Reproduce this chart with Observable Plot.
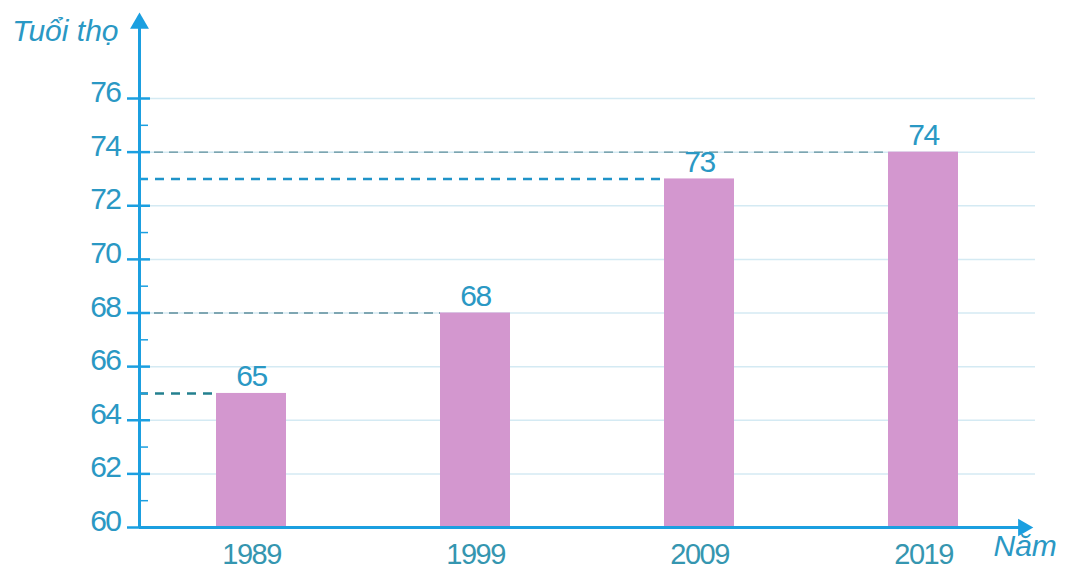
<!DOCTYPE html>
<html><head><meta charset="utf-8">
<script src="https://cdn.jsdelivr.net/npm/d3@7"></script>
<script src="https://cdn.jsdelivr.net/npm/@observablehq/plot@0.6"></script>
<style>html,body{margin:0;padding:0;background:#fff} svg{display:block}</style>
</head><body><div id="chart"></div>
<script>
// ---- data ----
const years = [1989, 1999, 2009, 2019];
const lifeExpectancy = [65, 68, 73, 74];
const yMajorTicks = [60, 62, 64, 66, 68, 70, 72, 74, 76];
const yMinorTicks = [61, 63, 65, 67, 69, 71, 73, 75];
const yAxisTitle = "Tuổi thọ";
const xAxisTitle = "Năm";

// ---- styling ----
const NUM_FONT = '"Liberation Sans Narrow", "Arial Narrow", "Liberation Sans", Arial, sans-serif';
const TITLE_FONT = '"Liberation Sans", Arial, sans-serif';
const AXIS = "#1b9fe0";
const LABEL = "#2a98c4";
const XLABEL = "#3596b0";
const GRID = "#d4eaf3";
const BAR = "#d397cf";
const X_DOMAIN = [1984, 2024];
const Y_DOMAIN = [60, 76];
const BAR_HALF = 1.5625;     // half bar width in x units
const Y_ARROW = 78.8;        // arrow end above domain
const X_ARROW = 2023.45;

const data = years.map((year, i) => ({year, value: lifeExpectancy[i], strong: i % 2 === 0}));

const chart = Plot.plot({
  width: 1072,
  height: 571,
  marginLeft: 139,
  marginRight: 37,
  marginTop: 98,
  marginBottom: 44,
  style: {fontFamily: NUM_FONT, background: "white", overflow: "visible"},
  x: {type: "linear", domain: X_DOMAIN, axis: null},
  y: {domain: Y_DOMAIN, axis: null},
  marks: [
    // grid lines
    Plot.ruleY(yMajorTicks.slice(1), {stroke: GRID, strokeWidth: 1.5, insetLeft: 11}),
    // dashed guide lines
    Plot.ruleY(data.filter(d => !d.strong), {y: "value", x1: X_DOMAIN[0], x2: d => d.year - BAR_HALF,
      stroke: "#5f8f9c", strokeWidth: 1.3, strokeDasharray: "9,6"}),
    Plot.ruleY(data.filter(d => d.strong), {y: "value", x1: X_DOMAIN[0], x2: d => d.year - BAR_HALF,
      stroke: (d) => d.value > 70 ? "#1f93c8" : "#23808f", strokeWidth: 2.5, strokeDasharray: "9,7"}),
    // bars
    Plot.rectY(data, {x1: d => d.year - BAR_HALF, x2: d => d.year + BAR_HALF, y1: Y_DOMAIN[0], y2: "value", fill: BAR}),
    // value labels
    Plot.text(data, {x: "year", y: "value", text: d => String(d.value), dy: -17,
      fill: LABEL, fontSize: 30}),
    // x labels
    Plot.text(data, {x: "year", y: Y_DOMAIN[0], text: d => String(d.year), dy: 27,
      fill: XLABEL, fontSize: 29}),
    // y ticks (major & minor)
    Plot.axisY(yMajorTicks, {tickSize: 23, dx: 11, tickFormat: () => "", stroke: AXIS, strokeWidth: 2.5}),
    Plot.axisY(yMinorTicks, {tickSize: 9, dx: 9, tickFormat: () => "", stroke: AXIS, strokeWidth: 1.5}),
    // y labels
    Plot.axisY(yMajorTicks, {tickSize: 0, tickPadding: 19, dy: -6, fill: LABEL, fontSize: 30, tickFormat: d => String(d)}),
    // axis lines
    Plot.ruleX([X_DOMAIN[0]], {y1: Y_DOMAIN[0], y2: Y_ARROW, stroke: AXIS, strokeWidth: 3}),
    Plot.ruleY([Y_DOMAIN[0]], {x1: X_DOMAIN[0], x2: X_ARROW, stroke: AXIS, strokeWidth: 3}),
    Plot.dot([{x: X_DOMAIN[0], y: Y_ARROW}], {x: "x", y: "y", symbol: "triangle", r: 7, fill: AXIS, stroke: null}),
    Plot.dot([{x: X_ARROW, y: Y_DOMAIN[0]}], {x: "x", y: "y", symbol: "triangle", r: 6.5, rotate: 90, fill: AXIS, stroke: null}),
    // axis titles
    Plot.text([yAxisTitle], {frameAnchor: "top-left", text: d => d, dx: -21, dy: -79, textAnchor: "end",
      fontStyle: "italic", fontSize: 30, fill: LABEL, fontFamily: TITLE_FONT}),
    Plot.text([xAxisTitle], {frameAnchor: "bottom-right", text: d => d, dx: -42, dy: 28, textAnchor: "start",
      fontStyle: "italic", fontSize: 30, fill: LABEL, fontFamily: TITLE_FONT})
  ]
});
// narrow the numerals a little, like the condensed face of the original
d3.select(chart).selectAll("text")
  .filter(function() { return /^\d+$/.test(this.textContent.trim()); })
  .style("letter-spacing", "-1.5px");
document.getElementById("chart").appendChild(chart);
</script>
</body></html>
